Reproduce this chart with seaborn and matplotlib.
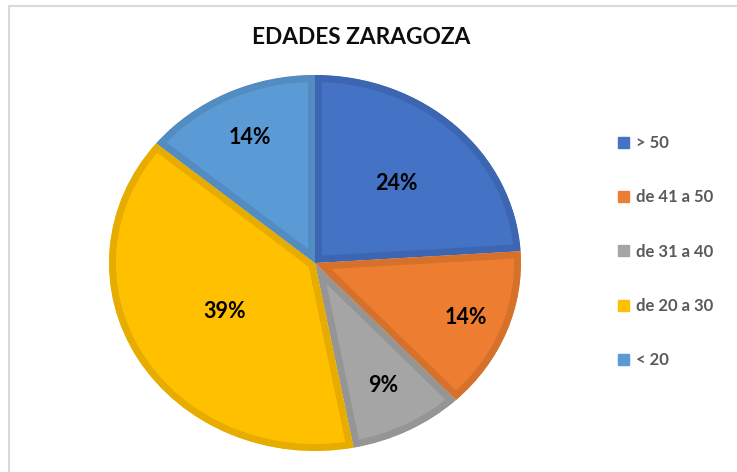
import matplotlib
matplotlib.use("Agg")
import matplotlib.pyplot as plt
import matplotlib.patches as mpatches
import seaborn as sns

# Data
categories = ["> 50", "de 41 a 50", "de 31 a 40", "de 20 a 30", "< 20"]
percentages = [24, 14, 9, 39, 14]
fill_colors = ["#4472C4", "#ED7D31", "#A5A5A5", "#FFC000", "#5B9BD5"]
edge_colors = ["#3C66B1", "#D6712C", "#959595", "#E6AD00", "#528CC0"]
# how far out each percentage label sits (fraction of the radius)
label_radius = [0.58, 0.79, 0.73, 0.51, 0.74]

sns.set_style("white")
plt.rcParams["font.family"] = ["Lato", "DejaVu Sans"]

fig = plt.figure(figsize=(7.37, 4.72), dpi=100)
ax = fig.add_axes([0, 0, 1, 1])

wedges, texts, autotexts = ax.pie(
    percentages,
    colors=fill_colors,
    startangle=90,
    counterclock=False,
    autopct="%1.0f%%",
    pctdistance=1.0,
    wedgeprops=dict(linewidth=10),
)
# darker border drawn only inside each slice (pie turns clipping off)
for w, ec in zip(wedges, edge_colors):
    w.set_edgecolor(ec)
    w.set_clip_on(True)
    w.set_clip_path(w)

for t, d in zip(autotexts, label_radius):
    x, y = t.get_position()
    t.set_position((x * d, y * d))
    t.set_fontsize(15.5)
    t.set_fontweight("bold")
    t.set_color("black")

# pie is a bit wider than tall in the reference
ax.set_aspect("auto")
cx, cy = 315, 472 - 263
rx, ry = 206, 188
ax.set_xlim(-cx / rx, (737 - cx) / rx)
ax.set_ylim(-cy / ry, (472 - cy) / ry)
ax.axis("off")

fig.text(361 / 737, 1 - 37 / 472, "EDADES ZARAGOZA", ha="center", va="center",
         fontsize=16.3, fontweight="bold", color="#0D0D0D")

handles = [mpatches.Patch(facecolor=c, edgecolor=c) for c in fill_colors]
fig.legend(handles, categories, loc="upper left",
           bbox_to_anchor=(603 / 737, 1 - 120 / 472), frameon=False,
           prop=dict(weight="bold", size=12), labelcolor="#595959",
           handlelength=0.65, handleheight=0.65, handletextpad=0.4,
           labelspacing=2.3)

# chart area border
fig.patches.append(mpatches.Rectangle((9 / 737, -0.1), 1.0, (466 / 472) + 0.1,
                                      transform=fig.transFigure, fill=False,
                                      edgecolor="#D9D9D9", linewidth=1.5))

fig.savefig("out.png", dpi=100)
